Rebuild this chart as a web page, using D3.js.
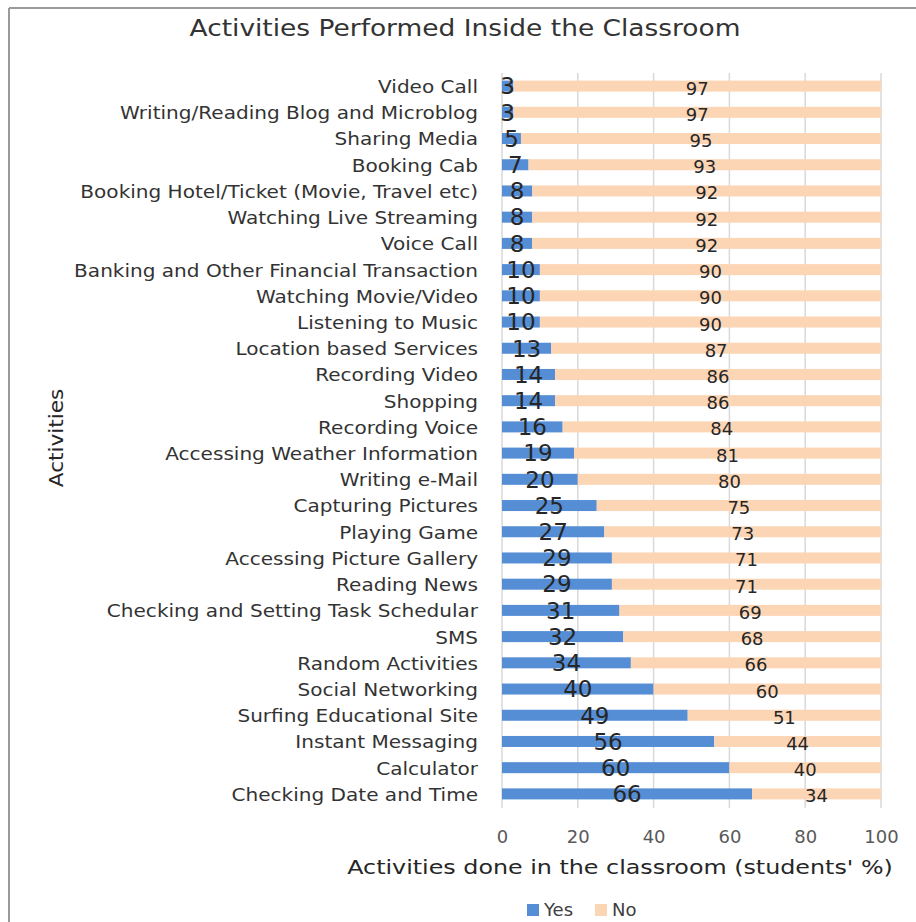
<!DOCTYPE html>
<html>
<head>
<meta charset="utf-8">
<script src="https://cdn.jsdelivr.net/npm/d3@7/dist/d3.min.js"></script>
<style>
  html, body { margin: 0; padding: 0; background: #fff; }
  svg { display: block; font-family: "DejaVu Sans", sans-serif; }
</style>
</head>
<body>
<script>
const categories = [
  "Video Call",
  "Writing/Reading Blog and Microblog",
  "Sharing Media",
  "Booking Cab",
  "Booking Hotel/Ticket (Movie, Travel etc)",
  "Watching Live Streaming",
  "Voice Call",
  "Banking and Other Financial Transaction",
  "Watching Movie/Video",
  "Listening to Music",
  "Location based Services",
  "Recording Video",
  "Shopping",
  "Recording Voice",
  "Accessing Weather Information",
  "Writing e-Mail",
  "Capturing Pictures",
  "Playing Game",
  "Accessing Picture Gallery",
  "Reading News",
  "Checking and Setting Task Schedular",
  "SMS",
  "Random Activities",
  "Social Networking",
  "Surfing Educational Site",
  "Instant Messaging",
  "Calculator",
  "Checking Date and Time"
];
const yesValues = [3, 3, 5, 7, 8, 8, 8, 10, 10, 10, 13, 14, 14, 16, 19, 20, 25, 27, 29, 29, 31, 32, 34, 40, 49, 56, 60, 66];
const noValues  = [97, 97, 95, 93, 92, 92, 92, 90, 90, 90, 87, 86, 86, 84, 81, 80, 75, 73, 71, 71, 69, 68, 66, 60, 51, 44, 40, 34];
const xTicks = [0, 20, 40, 60, 80, 100];
const seriesNames = ["Yes", "No"];

const W = 916, H = 922;
const colors = { Yes: "#558ED5", No: "#FCD5B5" };

const svg = d3.select("body").append("svg").attr("width", W).attr("height", H);

// chart border (top and left visible)
svg.append("line").attr("x1", 9).attr("x2", W).attr("y1", 8).attr("y2", 8)
  .attr("stroke", "#9a9a9a").attr("stroke-width", 2);
svg.append("line").attr("x1", 9).attr("x2", 9).attr("y1", 8).attr("y2", H)
  .attr("stroke", "#9a9a9a").attr("stroke-width", 2);

const x = d3.scaleLinear().domain([0, 100]).range([502, 881]);
const y = d3.scaleBand().domain(categories).range([73, 807]).paddingInner(0.58).paddingOuter(0.29);

// gridlines
svg.append("g").selectAll("line").data(xTicks).join("line")
  .attr("x1", d => x(d)).attr("x2", d => x(d))
  .attr("y1", 73).attr("y2", 808)
  .attr("stroke", "#d9d9d9").attr("stroke-width", 1.5);

const rows = categories.map((c, i) => ({ c, yes: yesValues[i], no: noValues[i] }));

// bars
svg.append("g").selectAll("rect").data(rows).join("rect")
  .attr("x", x(0)).attr("y", d => y(d.c))
  .attr("width", d => x(d.yes) - x(0)).attr("height", y.bandwidth())
  .attr("fill", colors.Yes);
svg.append("g").selectAll("rect").data(rows).join("rect")
  .attr("x", d => x(d.yes)).attr("y", d => y(d.c))
  .attr("width", d => x(d.yes + d.no) - x(d.yes)).attr("height", y.bandwidth())
  .attr("fill", colors.No);

// data labels
svg.append("g").selectAll("text").data(rows).join("text")
  .attr("x", d => x(d.yes / 2)).attr("y", d => y(d.c) + y.bandwidth() / 2)
  .attr("dy", "0.36em").attr("text-anchor", "middle")
  .attr("font-size", 23).attr("fill", "#262626")
  .text(d => d.yes);
svg.append("g").selectAll("text").data(rows).join("text")
  .attr("x", d => x(d.yes + d.no / 2)).attr("y", d => y(d.c) + y.bandwidth() / 2 + 2)
  .attr("dy", "0.36em").attr("text-anchor", "middle")
  .attr("font-size", 18).attr("fill", "#262626")
  .text(d => d.no);

// y axis labels (horizontally stretched like the reference)
const yAxis = d3.axisLeft(y).tickSize(0).tickPadding(0);
const gy = svg.append("g").attr("transform", "translate(478,1.5)").call(yAxis);
gy.select(".domain").remove();
gy.selectAll("text").attr("font-size", 17).attr("fill", "#333")
  .attr("font-family", "DejaVu Sans, sans-serif")
  .attr("transform", "scale(1.18,1)");

// x axis
const xAxis = d3.axisBottom(x).tickValues(xTicks).tickSize(0).tickPadding(0);
const gx = svg.append("g").attr("transform", "translate(0,830)").call(xAxis);
gx.select(".domain").remove();
gx.selectAll("text").attr("font-size", 18).attr("fill", "#595959")
  .attr("font-family", "DejaVu Sans, sans-serif");

// title
svg.append("text").attr("transform", "translate(465,36) scale(1.15,1)").attr("text-anchor", "middle")
  .attr("font-size", 23).attr("fill", "#333")
  .text("Activities Performed Inside the Classroom");

// axis titles
svg.append("text").attr("transform", "translate(620,874) scale(1.19,1)").attr("text-anchor", "middle")
  .attr("font-size", 20).attr("fill", "#262626")
  .text("Activities done in the classroom (students' %)");
svg.append("text").attr("transform", "translate(63,438) rotate(-90) scale(1.08,1)")
  .attr("text-anchor", "middle").attr("font-size", 20).attr("fill", "#262626")
  .text("Activities");

// legend
const legendItems = [{ name: seriesNames[0], x: 527 }, { name: seriesNames[1], x: 595 }];
const lg = svg.append("g").selectAll("g").data(legendItems).join("g")
  .attr("transform", d => `translate(${d.x},904)`);
lg.append("rect").attr("width", 12).attr("height", 12).attr("fill", d => colors[d.name]);
lg.append("text").attr("x", 17).attr("y", 6).attr("dy", "0.36em")
  .attr("font-size", 18).attr("fill", "#404040").text(d => d.name);
</script>
</body>
</html>
